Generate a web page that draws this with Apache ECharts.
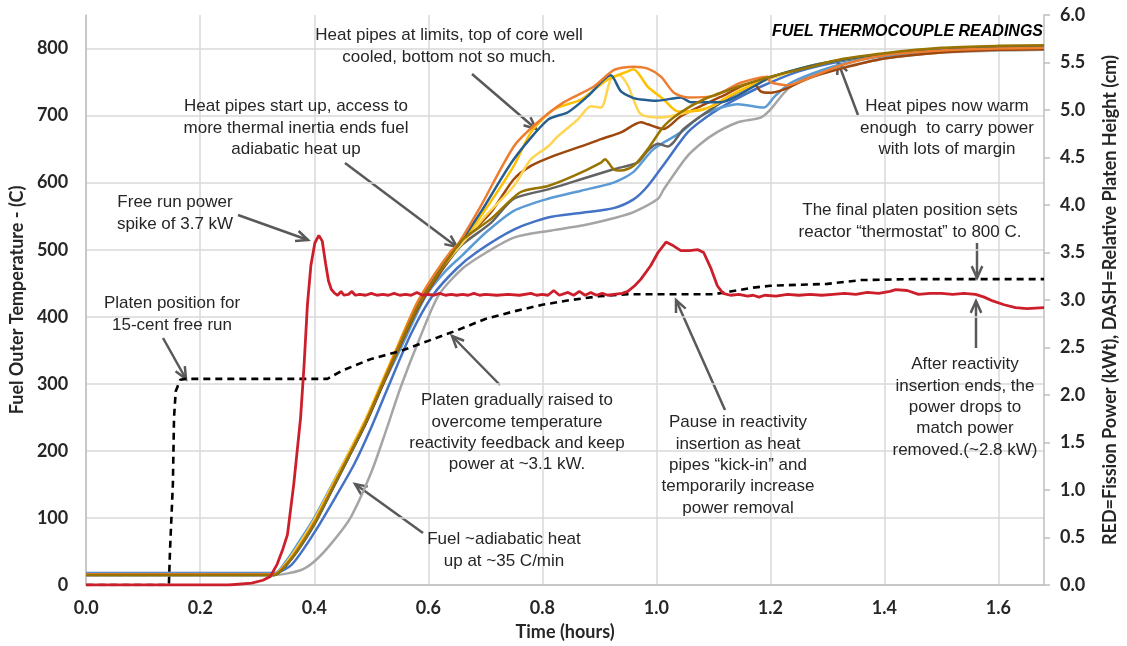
<!DOCTYPE html>
<html lang="en">
<head>
<meta charset="UTF-8">
<title>Fuel thermocouple readings</title>
<script src="https://cdn.jsdelivr.net/npm/echarts@6/dist/echarts.min.js"></script>
<style>
  html, body { margin: 0; padding: 0; background: #fff; }
  #chart { width: 1127px; height: 646px; }
</style>
</head>
<body>
<div id="chart"></div>
<script>
// [time (hours), fuel outer temperature (C)] for each thermocouple
const tcGray = [[0,15],[0.33,15],[0.376,22],[0.40,35],[0.429,61],[0.464,101],[0.5,168],[0.525,228],[0.552,296],[0.585,368],[0.618,432],[0.66,472],[0.704,497],[0.75,518],[0.81,528],[0.87,536],[0.93,548],[0.96,556],[1.003,576],[1.013,590],[1.055,640],[1.095,669],[1.143,690],[1.183,697],[1.2,709],[1.23,739],[1.265,758],[1.324,771],[1.4,785],[1.5,794],[1.6,797],[1.68,798]];
const tcBlue = [[0,18],[0.33,18],[0.36,30],[0.40,78],[0.44,135],[0.47,180],[0.50,235],[0.53,296],[0.57,375],[0.608,432],[0.65,472],[0.686,497],[0.75,530],[0.81,548],[0.87,555],[0.925,562],[0.96,575],[0.985,595],[1.02,635],[1.055,675],[1.09,699],[1.13,720],[1.183,743],[1.25,766],[1.324,781],[1.4,790],[1.5,798],[1.6,801],[1.68,802]];
const tcLightBlue = [[0,17],[0.33,17],[0.35,35],[0.37,60],[0.40,100],[0.43,148],[0.46,196],[0.49,246],[0.52,298],[0.55,350],[0.595,430],[0.63,468],[0.66,492],[0.70,525],[0.75,558],[0.81,576],[0.868,588],[0.925,600],[0.96,616],[0.995,650],[1.043,675],[1.083,702],[1.143,717],[1.189,712],[1.207,728],[1.236,749],[1.294,769],[1.35,782],[1.4,789],[1.5,797],[1.6,801],[1.68,802]];
const tcDarkGray = [[0,16],[0.33,16],[0.35,30],[0.37,52],[0.40,92],[0.43,141],[0.46,191],[0.49,241],[0.52,299],[0.55,356],[0.58,410],[0.61,452],[0.64,488],[0.66,508],[0.71,540],[0.75,576],[0.81,590],[0.868,605],[0.925,620],[0.967,630],[0.985,648],[1.003,658],[1.02,654],[1.03,660],[1.048,680],[1.083,702],[1.143,735],[1.2,756],[1.265,773],[1.324,783],[1.394,791],[1.5,799],[1.6,802],[1.68,803]];
const tcBrown = [[0,15],[0.33,15],[0.35,29],[0.37,51],[0.40,91],[0.43,140],[0.46,190],[0.49,240],[0.52,298],[0.55,356],[0.58,410],[0.61,452],[0.64,490],[0.66,512],[0.71,556],[0.75,605],[0.78,625],[0.82,640],[0.868,654],[0.903,665],[0.938,675],[0.973,690],[0.985,687],[1.013,680],[1.043,699],[1.113,728],[1.17,749],[1.183,736],[1.2,734],[1.224,739],[1.265,755],[1.324,770],[1.4,785],[1.5,794],[1.6,798],[1.68,799]];
const tcLightGold = [[0,16],[0.33,16],[0.35,32],[0.37,56],[0.40,97],[0.43,146],[0.46,196],[0.49,247],[0.52,305],[0.55,362],[0.58,418],[0.61,458],[0.64,490],[0.66,510],[0.70,550],[0.75,595],[0.78,635],[0.81,654],[0.827,669],[0.862,694],[0.885,714],[0.903,712],[0.92,754],[0.935,760],[0.95,745],[0.96,724],[0.973,702],[1.008,697],[1.055,705],[1.1,715],[1.15,740],[1.2,755],[1.265,773],[1.324,783],[1.394,791],[1.5,799],[1.6,802],[1.68,803]];
const tcGold = [[0,16],[0.33,16],[0.35,31],[0.37,54],[0.40,95],[0.43,145],[0.46,195],[0.49,246],[0.52,305],[0.55,364],[0.58,420],[0.61,462],[0.64,497],[0.652,506],[0.692,550],[0.75,625],[0.78,675],[0.82,709],[0.868,724],[0.915,754],[0.95,766],[0.96,769],[0.985,743],[1.013,724],[1.038,706],[1.083,709],[1.13,730],[1.2,757],[1.265,773],[1.324,783],[1.394,791],[1.5,799],[1.6,802],[1.68,803]];
const tcDarkBlue = [[0,15],[0.33,15],[0.35,29],[0.37,50],[0.40,90],[0.43,140],[0.46,190],[0.49,241],[0.52,300],[0.55,360],[0.58,418],[0.61,460],[0.64,496],[0.652,506],[0.692,556],[0.75,635],[0.81,694],[0.845,705],[0.88,729],[0.92,760],[0.938,736],[0.96,726],[0.973,724],[1.0,722],[1.043,727],[1.06,720],[1.113,720],[1.17,743],[1.2,757],[1.265,773],[1.324,783],[1.4,792],[1.5,799],[1.6,802],[1.68,803]];
const tcOrange = [[0,16],[0.33,16],[0.35,30],[0.37,52],[0.40,93],[0.43,142],[0.46,192],[0.49,243],[0.52,302],[0.55,362],[0.58,420],[0.61,462],[0.64,498],[0.652,508],[0.692,565],[0.75,654],[0.792,690],[0.838,720],[0.89,743],[0.926,768],[0.96,773],[0.985,770],[1.008,758],[1.031,734],[1.055,727],[1.1,729],[1.148,749],[1.195,758],[1.2,750],[1.23,745],[1.265,755],[1.324,775],[1.4,790],[1.5,797],[1.6,800],[1.68,801]];
const tcOlive = [[0,15],[0.33,15],[0.35,29],[0.37,51],[0.40,91],[0.43,141],[0.46,191],[0.49,242],[0.52,300],[0.55,358],[0.58,413],[0.61,455],[0.64,492],[0.66,515],[0.71,546],[0.762,586],[0.81,595],[0.855,610],[0.903,630],[0.91,635],[0.925,620],[0.938,618],[0.96,625],[0.985,650],[1.013,684],[1.043,705],[1.083,724],[1.143,743],[1.2,758],[1.254,769],[1.324,784],[1.4,793],[1.5,801],[1.6,804],[1.68,805]];

// [time (hours), fission power (kWt)]
const powerKw = [[0,0],[0.25,0],[0.29,0.02],[0.31,0.05],[0.323,0.09],[0.335,0.22],[0.345,0.38],[0.353,0.53],[0.364,1.06],[0.376,1.76],[0.382,2.3],[0.388,2.95],[0.394,3.36],[0.401,3.6],[0.408,3.68],[0.414,3.62],[0.42,3.38],[0.425,3.2],[0.43,3.11],[0.436,3.07],[0.441,3.05],[0.447,3.09],[0.452,3.05],[0.46,3.06],[0.466,3.09],[0.472,3.05],[0.48,3.06],[0.49,3.05],[0.5,3.07],[0.51,3.05],[0.52,3.06],[0.53,3.05],[0.54,3.07],[0.55,3.05],[0.56,3.06],[0.57,3.05],[0.58,3.08],[0.59,3.05],[0.6,3.06],[0.61,3.05],[0.62,3.07],[0.63,3.05],[0.64,3.06],[0.65,3.05],[0.66,3.06],[0.67,3.05],[0.68,3.07],[0.69,3.05],[0.7,3.06],[0.72,3.05],[0.74,3.06],[0.76,3.05],[0.78,3.07],[0.79,3.05],[0.8,3.06],[0.81,3.05],[0.82,3.1],[0.83,3.05],[0.845,3.08],[0.855,3.05],[0.865,3.09],[0.875,3.05],[0.885,3.08],[0.895,3.05],[0.905,3.07],[0.915,3.05],[0.925,3.06],[0.94,3.07],[0.95,3.09],[0.962,3.15],[0.973,3.22],[0.99,3.36],[1.003,3.5],[1.017,3.61],[1.03,3.57],[1.043,3.52],[1.058,3.52],[1.073,3.53],[1.083,3.5],[1.096,3.33],[1.107,3.15],[1.117,3.07],[1.13,3.05],[1.145,3.06],[1.16,3.04],[1.17,3.05],[1.18,3.03],[1.19,3.05],[1.21,3.04],[1.23,3.06],[1.25,3.05],[1.27,3.06],[1.29,3.05],[1.31,3.06],[1.33,3.07],[1.35,3.06],[1.37,3.08],[1.39,3.07],[1.41,3.09],[1.42,3.11],[1.44,3.1],[1.46,3.06],[1.48,3.07],[1.5,3.07],[1.52,3.06],[1.54,3.07],[1.56,3.06],[1.575,3.03],[1.59,2.99],[1.61,2.95],[1.63,2.92],[1.65,2.91],[1.68,2.92]];

// [time (hours), relative platen height (cm)]
const platenCm = [[0,0],[0.145,0],[0.147,0.37],[0.152,1.06],[0.154,1.76],[0.157,2.04],[0.165,2.16],[0.175,2.17],[0.423,2.17],[0.45,2.26],[0.5,2.38],[0.55,2.46],[0.6,2.57],[0.65,2.68],[0.7,2.8],[0.75,2.88],[0.8,2.95],[0.85,3.0],[0.9,3.04],[0.95,3.06],[1.1,3.06],[1.13,3.09],[1.17,3.13],[1.2,3.15],[1.3,3.17],[1.36,3.21],[1.45,3.22],[1.68,3.22]];

const tempSeries = [
  ['TC gray', tcGray, '#A5A5A5'],
  ['TC blue', tcBlue, '#4472C4'],
  ['TC light blue', tcLightBlue, '#5B9BD5'],
  ['TC dark gray', tcDarkGray, '#636363'],
  ['TC brown', tcBrown, '#9E480E'],
  ['TC light gold', tcLightGold, '#FFD54F'],
  ['TC gold', tcGold, '#FFC000'],
  ['TC dark blue', tcDarkBlue, '#255E91'],
  ['TC orange', tcOrange, '#ED7D31'],
  ['TC olive', tcOlive, '#997300']
];

const chart = echarts.init(document.getElementById('chart'));

const noteFont = '17px "Liberation Sans", Arial, sans-serif';
const noteColor = '#262626';
const arrowColor = '#595959';

function note(x, y, lines) {
  return {
    type: 'text', z: 100,
    style: {
      text: lines.join('\n'), x: x, y: y - 10,
      font: noteFont, fill: noteColor,
      align: 'center', verticalAlign: 'top', lineHeight: 21.3
    }
  };
}

function arrow(x1, y1, x2, y2) {
  const a = Math.atan2(y2 - y1, x2 - x1);
  const h = 13, w = 0.42;
  return {
    type: 'group', z: 100,
    children: [
      { type: 'line', shape: { x1: x1, y1: y1, x2: x2, y2: y2 },
        style: { stroke: arrowColor, lineWidth: 2.5 } },
      { type: 'polyline',
        shape: { points: [
          [x2 - h * Math.cos(a - w), y2 - h * Math.sin(a - w)],
          [x2, y2],
          [x2 - h * Math.cos(a + w), y2 - h * Math.sin(a + w)]
        ] },
        style: { stroke: arrowColor, lineWidth: 2.5, fill: 'none' } }
    ]
  };
}

const tickFont = { fontFamily: 'Lato', fontWeight: 'bold', fontSize: 18, color: '#262626' };
const titleFont = { fontFamily: 'Lato', fontWeight: 'bold', fontSize: 18, color: '#262626' };

const option = {
  animation: false,
  backgroundColor: '#fff',
  grid: { left: 86, right: 82, top: 15, bottom: 58 },
  xAxis: {
    type: 'value', min: 0, max: 1.68, interval: 0.2,
    name: 'Time (hours)', nameLocation: 'middle', nameGap: 38,
    nameTextStyle: titleFont,
    axisLine: { show: true, lineStyle: { color: '#bfbfbf', width: 1.5 } },
    axisTick: { show: false },
    axisLabel: Object.assign({ margin: 14, showMaxLabel: false,
      formatter: v => v.toFixed(1) }, tickFont),
    splitLine: { show: true, showMaxLine: false, lineStyle: { color: '#d9d9d9', width: 1.5 } }
  },
  yAxis: [{
    type: 'value', min: 0, max: 850, interval: 100,
    name: 'Fuel Outer Temperature - (C)', nameLocation: 'middle', nameGap: 55, nameRotate: 90,
    nameTextStyle: titleFont,
    axisLine: { show: true, lineStyle: { color: '#bfbfbf', width: 1.5 } },
    axisTick: { show: false },
    axisLabel: Object.assign({ margin: 18, showMaxLabel: false }, tickFont),
    splitLine: { show: true, showMaxLine: false, lineStyle: { color: '#d9d9d9', width: 1.5 } }
  }, {
    type: 'value', min: 0, max: 6, interval: 0.5, position: 'right',
    name: 'RED=Fission Power (kWt), DASH=Relative Platen Height (cm)',
    nameLocation: 'middle', nameGap: 57, nameRotate: 90,
    nameTextStyle: titleFont,
    axisLine: { show: true, lineStyle: { color: '#bfbfbf', width: 1.5 } },
    axisTick: { show: true, length: 6, lineStyle: { color: '#bfbfbf', width: 1.5 } },
    axisLabel: Object.assign({ margin: 16, formatter: v => v.toFixed(1) }, tickFont),
    splitLine: { show: false }
  }],
  series: tempSeries.map(([name, data, color]) => ({
    name: name, type: 'line', data: data, yAxisIndex: 0,
    showSymbol: false, smooth: 0.25, z: 3,
    lineStyle: { color: color, width: 2.5 }
  })).concat([{
    name: 'Platen height', type: 'line', data: platenCm, yAxisIndex: 1,
    showSymbol: false, z: 4,
    lineStyle: { color: '#000', width: 2.6, type: [7, 5] }
  }, {
    name: 'Fission power', type: 'line', data: powerKw, yAxisIndex: 1,
    showSymbol: false, z: 5,
    lineStyle: { color: '#CC1E2B', width: 2.8 }
  }]),
  graphic: [
    {
      type: 'text', z: 100,
      style: {
        text: 'FUEL THERMOCOUPLE READINGS', x: 1043, y: 32,
        font: 'italic bold 16px "Liberation Sans", Arial, sans-serif', fill: '#000',
        align: 'right', verticalAlign: 'middle'
      }
    },
    note(449, 35, ['Heat pipes at limits, top of core well', 'cooled, bottom not so much.']),
    arrow(472, 74, 536, 129),
    note(296, 106, ['Heat pipes start up, access to', 'more thermal inertia ends fuel', 'adiabatic heat up']),
    arrow(345, 163, 457, 247),
    note(175, 202, ['Free run power', 'spike of 3.7 kW']),
    arrow(238, 215, 308, 240),
    note(172, 303, ['Platen position for', '15-cent free run']),
    arrow(163, 338, 186, 379),
    note(517, 400, ['Platen gradually raised to', 'overcome temperature', 'reactivity feedback and keep', 'power at ~3.1 kW.']),
    arrow(500, 385, 452, 336),
    note(504, 539, ['Fuel ~adiabatic heat', 'up at ~35 C/min']),
    arrow(423, 533, 355, 484),
    note(738, 422, ['Pause in reactivity', 'insertion as heat', 'pipes \u201ckick-in\u201d and', 'temporarily increase', 'power removal']),
    arrow(725, 410, 676, 300),
    note(910, 210, ['The final platen position sets', 'reactor \u201cthermostat\u201d to 800 C.']),
    arrow(977, 243, 977, 278),
    note(947, 106, ['Heat pipes now warm', 'enough  to carry power', 'with lots of margin']),
    arrow(858, 115, 838, 62),
    note(965, 364, ['After reactivity', 'insertion ends, the', 'power drops to', 'match power', 'removed.(~2.8 kW)']),
    arrow(976, 348, 976, 301)
  ]
};

chart.setOption(option);
</script>
</body>
</html>
